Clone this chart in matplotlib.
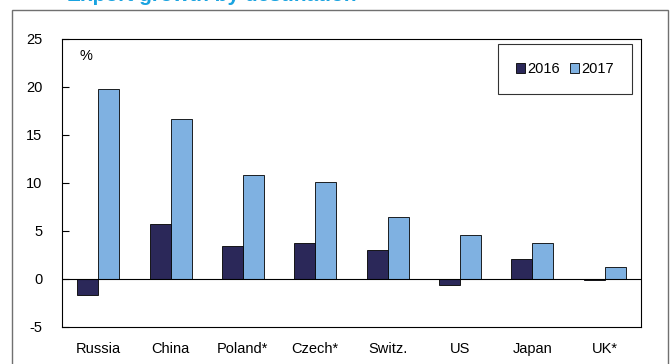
import matplotlib
matplotlib.use("Agg")
import matplotlib.pyplot as plt
import numpy as np
from matplotlib.patches import Rectangle

categories = ["Russia", "China", "Poland*", "Czech*", "Switz.", "US", "Japan", "UK*"]
values_2016 = [-1.7, 5.7, 3.4, 3.7, 3.0, -0.6, 2.1, -0.1]
values_2017 = [19.8, 16.7, 10.8, 10.1, 6.5, 4.6, 3.8, 1.3]
series_labels = ["2016", "2017"]
yticks = [-5, 0, 5, 10, 15, 20, 25]

plt.rcParams['font.family'] = ['Liberation Sans', 'DejaVu Sans']

W, H = 671, 364
fig = plt.figure(figsize=(W / 100, H / 100), dpi=100)

# outer frame
fig.patches.append(Rectangle((12 / W, -0.05), (668 - 12) / W, (H - 10) / H + 0.05,
                             transform=fig.transFigure, fill=False, edgecolor='#707070',
                             linewidth=1.0))

ax = fig.add_axes([62 / W, (H - 327) / H, (641 - 62) / W, (327 - 39) / H])

x = np.arange(len(categories))
bw = 0.29
ax.bar(x - bw / 2, values_2016, bw, color='#2B2859', edgecolor='black', linewidth=0.6,
       label=series_labels[0])
ax.bar(x + bw / 2, values_2017, bw, color='#7FB1E1', edgecolor='black', linewidth=0.6,
       label=series_labels[1])
ax.axhline(0, color='black', linewidth=0.8)

ax.set_xlim(-0.5, len(categories) - 0.5)
ax.set_ylim(-5, 25)
ax.set_yticks(yticks)
ax.set_yticklabels([str(v) for v in yticks], fontsize=10.5)
ax.set_xticks(x)
ax.set_xticklabels(categories, fontsize=10.5)
ax.tick_params(axis='y', direction='in', length=5, pad=14)
ax.tick_params(axis='x', length=0, pad=11)
for s in ax.spines.values():
    s.set_color('black')
    s.set_linewidth(0.8)

ax.text(0.03, 0.965, "%", transform=ax.transAxes, fontsize=10.5, va='top', ha='left')

leg = ax.legend(loc='upper right', bbox_to_anchor=(0.984, 0.983), ncol=2, fontsize=10.5,
                frameon=True, fancybox=False, edgecolor='black', handlelength=0.6,
                handleheight=0.6, handletextpad=0.15, columnspacing=0.7,
                borderpad=1.25, borderaxespad=0)
leg.get_frame().set_linewidth(0.8)

fig.text(0.10, 1.0 - 1 / H, "Export growth by destination", color='#1AA3E0',
         fontsize=15, fontweight='bold', va='baseline', ha='left')

fig.savefig("out.png", dpi=100)
